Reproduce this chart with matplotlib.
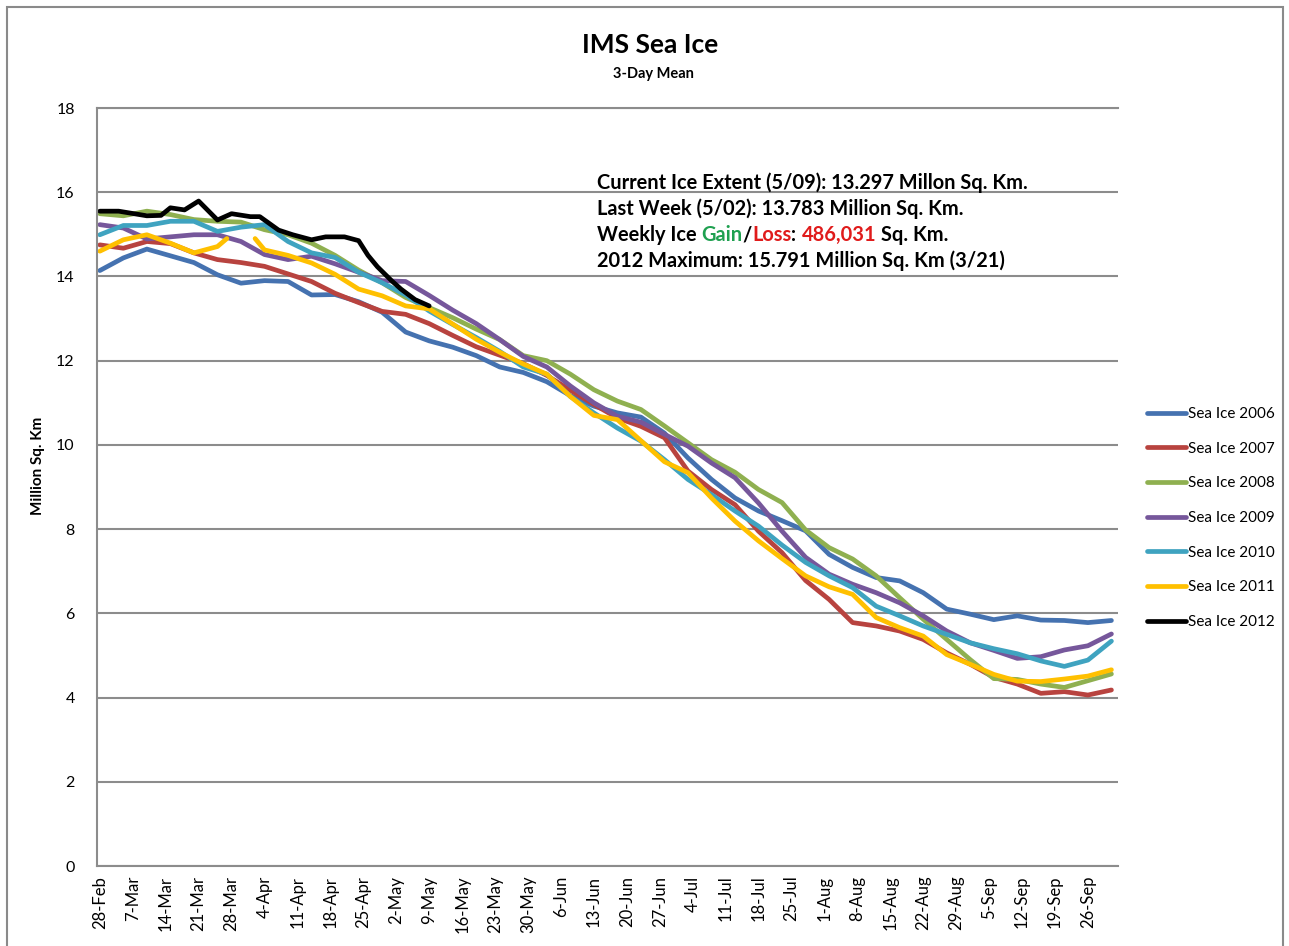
import matplotlib
matplotlib.use('Agg')
import matplotlib.pyplot as plt
import numpy as np
from matplotlib.patches import Rectangle

plt.rcParams['font.family'] = ['Lato', 'DejaVu Sans']

# weekly category labels on the date axis (28-Feb = day 0)
tick_labels = ['28-Feb', '7-Mar', '14-Mar', '21-Mar', '28-Mar', '4-Apr', '11-Apr', '18-Apr',
               '25-Apr', '2-May', '9-May', '16-May', '23-May', '30-May', '6-Jun', '13-Jun',
               '20-Jun', '27-Jun', '4-Jul', '11-Jul', '18-Jul', '25-Jul', '1-Aug', '8-Aug',
               '15-Aug', '22-Aug', '29-Aug', '5-Sep', '12-Sep', '19-Sep', '26-Sep']

# sample days (days since 28-Feb) for the past seasons
days = [0, 5, 10, 15, 20, 25, 30, 35, 40, 45,
        50, 55, 60, 65, 70, 75, 80, 85, 90, 95,
        100, 105, 110, 115, 120, 125, 130, 135, 140, 145,
        150, 155, 160, 165, 170, 175, 180, 185, 190, 195,
        200, 205, 210, 215]

ice_2006 = [14.14, 14.44, 14.65, 14.49, 14.33, 14.04, 13.84, 13.90, 13.88, 13.56,
            13.57, 13.40, 13.15, 12.68, 12.47, 12.32, 12.12, 11.85, 11.72, 11.50,
            11.17, 10.92, 10.76, 10.66, 10.28, 9.69, 9.18, 8.74, 8.43, 8.20,
            7.96, 7.40, 7.09, 6.85, 6.77, 6.49, 6.10, 5.98, 5.85, 5.94,
            5.84, 5.83, 5.78, 5.83]

ice_2007 = [14.75, 14.67, 14.83, 14.78, 14.56, 14.40, 14.33, 14.24, 14.06, 13.88,
            13.60, 13.38, 13.17, 13.10, 12.88, 12.60, 12.33, 12.13, 11.93, 11.65,
            11.30, 10.96, 10.64, 10.44, 10.17, 9.38, 8.94, 8.58, 7.95, 7.44,
            6.78, 6.33, 5.78, 5.70, 5.58, 5.38, 5.06, 4.79, 4.48, 4.32,
            4.10, 4.14, 4.06, 4.18]

ice_2008 = [15.49, 15.44, 15.55, 15.47, 15.35, 15.31, 15.29, 15.11, 14.99, 14.79,
            14.50, 14.15, 13.85, 13.50, 13.26, 13.02, 12.75, 12.50, 12.12, 12.00,
            11.68, 11.31, 11.04, 10.84, 10.45, 10.05, 9.65, 9.35, 8.94, 8.63,
            7.98, 7.56, 7.29, 6.89, 6.37, 5.86, 5.38, 4.90, 4.45, 4.43,
            4.32, 4.24, 4.40, 4.56]

ice_2009 = [15.23, 15.15, 14.89, 14.94, 14.99, 14.99, 14.83, 14.52, 14.40, 14.48,
            14.30, 14.10, 13.90, 13.88, 13.55, 13.20, 12.88, 12.50, 12.10, 11.85,
            11.40, 11.00, 10.68, 10.54, 10.25, 9.97, 9.57, 9.22, 8.62, 7.95,
            7.33, 6.93, 6.69, 6.49, 6.25, 5.94, 5.58, 5.30, 5.12, 4.93,
            4.97, 5.13, 5.23, 5.51]

ice_2010 = [14.99, 15.21, 15.21, 15.31, 15.31, 15.07, 15.17, 15.23, 14.83, 14.56,
            14.45, 14.10, 13.85, 13.56, 13.18, 12.86, 12.55, 12.22, 11.85, 11.68,
            11.15, 10.76, 10.40, 10.09, 9.65, 9.18, 8.82, 8.43, 8.07, 7.62,
            7.21, 6.89, 6.61, 6.17, 5.94, 5.70, 5.50, 5.30, 5.16, 5.04,
            4.87, 4.74, 4.89, 5.34]

# 2011 has a short gap in late March
days_2011 = [0, 5, 10, 15, 20, 25, 27, 30, 33, 35, 40, 45,
             50, 55, 60, 65, 70, 75, 80, 85, 90, 95,
             100, 105, 110, 115, 120, 125, 130, 135, 140, 145,
             150, 155, 160, 165, 170, 175, 180, 185, 190, 195,
             200, 205, 210, 215]
ice_2011 = [14.60, 14.87, 14.99, 14.79, 14.56, 14.71, 14.90, np.nan, 14.90, 14.63, 14.50, 14.32,
            14.05, 13.70, 13.54, 13.30, 13.23, 12.87, 12.51, 12.20, 11.92, 11.68,
            11.15, 10.70, 10.60, 10.10, 9.60, 9.34, 8.74, 8.19, 7.72, 7.30,
            6.89, 6.63, 6.45, 5.90, 5.66, 5.46, 5.02, 4.79, 4.55, 4.39,
            4.38, 4.44, 4.51, 4.66]

days_2012 = [0, 4, 10, 13, 15, 18, 21, 25, 28, 32, 34, 38, 41, 45, 48, 52, 55, 57, 59, 62, 64, 67, 70]
ice_2012 = [15.55, 15.55, 15.44, 15.45, 15.63, 15.58, 15.79, 15.34, 15.49, 15.42, 15.42, 15.10,
            14.99, 14.87, 14.94, 14.94, 14.85, 14.50, 14.23, 13.90, 13.70, 13.45, 13.30]

series = [
    ('Sea Ice 2006', days, ice_2006, '#4572B0'),
    ('Sea Ice 2007', days, ice_2007, '#B8433F'),
    ('Sea Ice 2008', days, ice_2008, '#8FB050'),
    ('Sea Ice 2009', days, ice_2009, '#76579B'),
    ('Sea Ice 2010', days, ice_2010, '#3FA3C0'),
    ('Sea Ice 2011', days_2011, ice_2011, '#FFC000'),
    ('Sea Ice 2012', days_2012, ice_2012, '#000000'),
]

W, H = 1289, 946
fig = plt.figure(figsize=(W / 100, H / 100), dpi=100)
fig.patches.append(Rectangle((7 / W, -0.02), 1276 / W, 1 - 7 / H + 0.02, transform=fig.transFigure,
                             fill=False, edgecolor='#8a8a8a', linewidth=1.5))

ax = fig.add_axes([97 / W, 1 - 866 / H, (1118 - 97) / W, (866 - 108) / H])

for label, x, y, color in series:
    ax.plot(x, y, color=color, linewidth=3.4, label=label, solid_capstyle='round')

ax.set_xlim(-0.6, 216.4)
ax.set_ylim(0, 18)
ax.set_yticks(np.arange(0, 19, 2))
ax.set_xticks(np.arange(len(tick_labels)) * 7)
ax.set_xticklabels(tick_labels, rotation=90, fontsize=12)
ax.tick_params(axis='x', length=0, pad=7)
ax.tick_params(axis='y', length=0, pad=16, labelsize=11.5)
ax.yaxis.grid(True, color='#8c8c8c', linewidth=1.5)
ax.set_axisbelow(True)
for side in ['left', 'bottom', 'top']:
    ax.spines[side].set_color('#8c8c8c')
    ax.spines[side].set_linewidth(1.5)
ax.spines['right'].set_visible(False)

ax.set_ylabel('Million Sq. Km', fontsize=11, fontweight='bold')
ax.yaxis.set_label_coords(-0.051, 0.528)

fig.text(650 / W, 1 - 45 / H, 'IMS Sea Ice', ha='center', va='center', fontsize=19, fontweight='bold')
fig.text(653 / W, 1 - 74 / H, '3-Day Mean', ha='center', va='center', fontsize=10.5, fontweight='bold')

tx = 597 / W
fs = 14.4
fig.text(tx, 1 - 183 / H, 'Current Ice Extent (5/09): 13.297 Millon Sq. Km.', va='center', fontsize=fs, fontweight='bold')
fig.text(tx, 1 - 209 / H, 'Last Week (5/02): 13.783 Million Sq. Km.', va='center', fontsize=fs, fontweight='bold')
t = fig.text(tx, 1 - 235 / H, 'Weekly Ice ', va='center', fontsize=fs, fontweight='bold')
for piece, color, gap in [('Gain', '#1FA050', 0), ('/', 'black', 0), ('Loss', '#E01B1B', 0),
                          (':', 'black', 0), ('486,031', '#E01B1B', 4), ('Sq. Km.', 'black', 3)]:
    t = ax.annotate(piece, xy=(1, 0), xycoords=t, xytext=(gap, 0), textcoords='offset points',
                    va='bottom', ha='left', fontsize=fs, fontweight='bold', color=color,
                    annotation_clip=False)
fig.text(tx, 1 - 261 / H, '2012 Maximum: 15.791 Million Sq. Km (3/21)', va='center', fontsize=fs, fontweight='bold')

ax.legend(loc='center left', bbox_to_anchor=(1.028, 0.459), frameon=False, fontsize=11,
          handlelength=2.6, handletextpad=0.1, labelspacing=1.35, borderpad=0, borderaxespad=0)

fig.savefig('out.png', dpi=100)
